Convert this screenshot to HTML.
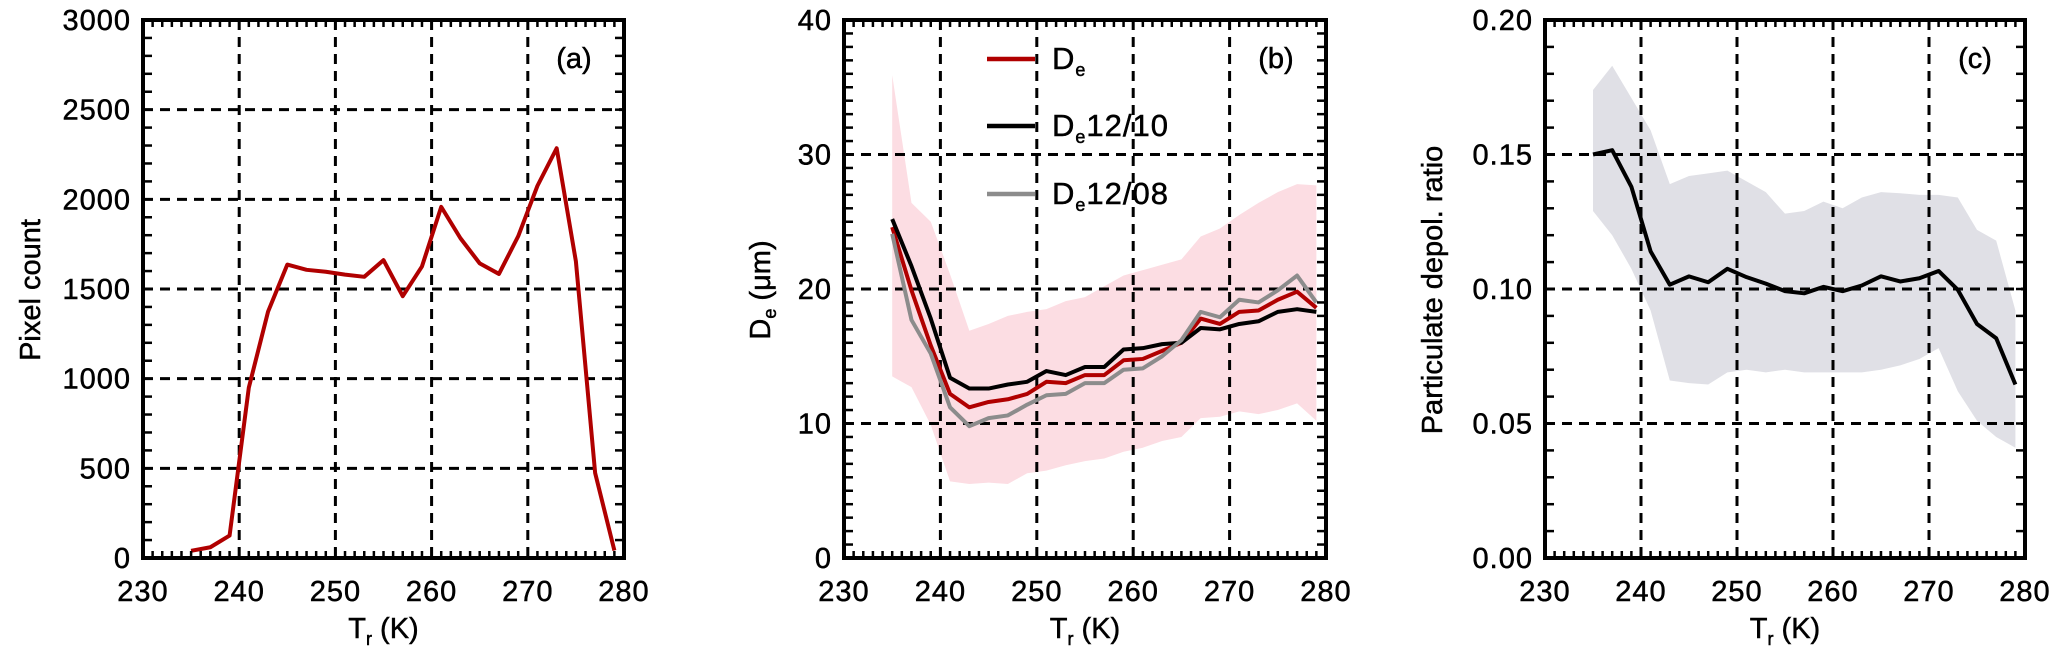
<!DOCTYPE html>
<html><head><meta charset="utf-8"><style>
html,body{margin:0;padding:0;background:#fff;}
svg{display:block;font-family:"Liberation Sans",sans-serif;}
svg text{stroke:#000;stroke-width:0.5px;}
</style></head><body>
<svg id="fig" width="2067" height="660" viewBox="0 0 2067 660"></svg>
<script>
const temps=[235,237,239,241,243,245,247,249,251,253,255,257,259,261,263,265,267,269,271,273,275,277,279];
const pixelCount=[40,60,125,950,1374,1636,1607,1596,1580,1568,1661,1460,1626,1958,1783,1643,1584,1794,2075,2285,1654,474,42];
const deMean=[24.6,19.9,15.8,12.2,11.2,11.6,11.8,12.2,13.1,13.0,13.6,13.6,14.7,14.8,15.4,16.0,17.8,17.4,18.3,18.4,19.2,19.8,18.6];
const de1210=[25.2,21.7,17.8,13.4,12.6,12.6,12.9,13.1,13.9,13.6,14.2,14.2,15.5,15.6,15.9,16.0,17.1,17.0,17.4,17.6,18.3,18.5,18.3];
const de1208=[24.1,17.7,15.2,11.2,9.8,10.4,10.6,11.4,12.1,12.2,13.0,13.0,14.0,14.1,15.0,16.2,18.3,17.9,19.2,19.0,19.9,21.0,19.0];
const deUpper=[35.9,26.4,25.0,21.1,16.9,17.4,18.0,18.3,18.5,19.1,19.4,20.2,21.0,21.4,21.8,22.2,23.9,24.5,25.5,26.4,27.2,27.8,27.7];
const deLower=[13.5,12.7,9.9,5.7,5.5,5.6,5.5,6.3,6.5,6.9,7.2,7.4,7.9,8.2,8.7,9.0,10.4,10.5,10.9,10.7,11.0,11.5,10.2];
const depol=[0.150,0.1516,0.138,0.114,0.1016,0.1047,0.1025,0.1075,0.1044,0.102,0.0992,0.0984,0.1008,0.0992,0.1013,0.1047,0.1028,0.104,0.1067,0.0997,0.087,0.0817,0.0645];
const depolUpper=[0.174,0.183,0.171,0.159,0.139,0.142,0.143,0.144,0.140,0.136,0.128,0.129,0.1325,0.130,0.134,0.136,0.1356,0.135,0.135,0.134,0.122,0.118,0.092];
const depolLower=[0.129,0.12,0.1075,0.092,0.066,0.065,0.0645,0.069,0.07,0.069,0.07,0.069,0.069,0.069,0.069,0.07,0.0716,0.074,0.078,0.062,0.051,0.045,0.041];
const xTicks=[230,240,250,260,270,280];
const yTicksA=[0,500,1000,1500,2000,2500,3000];
const yTicksB=[0,10,20,30,40];
const yTicksC=[0,0.05,0.10,0.15,0.20];
const yLabelsC=["0.00","0.05","0.10","0.15","0.20"];

const NS="http://www.w3.org/2000/svg";
const svg=document.getElementById('fig');
function mk(tag,attrs,parent){const e=document.createElementNS(NS,tag);for(const k in attrs)e.setAttribute(k,attrs[k]);(parent||svg).appendChild(e);return e;}
const TOP=20,BOT=558;

function panel(id,left,right,ymax,yTicks,yLabels,minorY,title,titleX,letter){
  const g=mk('g',{});
  
  
  const sx=v=>left+(v-230)/50*(right-left);
  const sy=v=>BOT-(v/ymax)*(BOT-TOP);
  return {g,sx,sy,left,right,ymax,yTicks,yLabels,minorY,title,titleX,letter,id};
}
function frame(P){
  const {g,sx,sy,left,right}=P;
  const gg=mk('g',{},g);
  
  
  [240,250,260,270].forEach(t=>{mk('line',{x1:sx(t),x2:sx(t),y1:TOP,y2:BOT,stroke:'#000','stroke-width':3,'stroke-dasharray':'10 7'},gg);});
  P.yTicks.slice(1,-1).forEach(t=>{mk('line',{x1:left,x2:right,y1:sy(t),y2:sy(t),stroke:'#000','stroke-width':3,'stroke-dasharray':'10 7'},gg);});
}
function axes(P){
  const {g,sx,sy,left,right}=P;
  const ax=mk('g',{},g);
  
  
  for(let t=230;t<=280;t++){
    const x=sx(t);const L=(t%10===0)?10:7;
    mk('line',{x1:x,x2:x,y1:BOT,y2:BOT-L,stroke:'#000','stroke-width':2.5},ax);
    mk('line',{x1:x,x2:x,y1:TOP,y2:TOP+L,stroke:'#000','stroke-width':2.5},ax);
  }
  const n=Math.round(P.ymax/P.minorY);
  for(let i=0;i<=n;i++){
    const y=sy(i*P.minorY);
    mk('line',{x1:left,x2:left+9,y1:y,y2:y,stroke:'#000','stroke-width':2.5},ax);
    mk('line',{x1:right,x2:right-9,y1:y,y2:y,stroke:'#000','stroke-width':2.5},ax);
  }
  mk('rect',{x:left,y:TOP,width:right-left,height:BOT-TOP,fill:'none',stroke:'#000','stroke-width':4},ax);
  xTicks.forEach(t=>{const e=mk('text',{x:sx(t),y:601,'text-anchor':'middle','font-size':29,'letter-spacing':1},ax);e.textContent=t;
    
    });
  P.yTicks.forEach((t,i)=>{const e=mk('text',{x:left-12,y:sy(t)+10,'text-anchor':'end','font-size':29,'letter-spacing':1},ax);e.textContent=P.yLabels[i];
    
    });
  const xt=mk('text',{x:(left+right)/2,y:638,'text-anchor':'middle','font-size':29},ax);
  xt.innerHTML='T<tspan font-size="18" dy="7">r</tspan><tspan dy="-7"> (K)</tspan>';
  
  
  const yt=mk('text',{x:0,y:0,'text-anchor':'middle','font-size':29,transform:`translate(${P.titleX},290) rotate(-90)`},ax);
  yt.innerHTML=P.title;
  
  
  const lt=mk('text',{x:right-50,y:68,'text-anchor':'middle','font-size':29},ax);
  lt.textContent='('+P.letter+')';
  
  
}
function line(P,vals,color,w,name){
  const pts=temps.map((t,i)=>P.sx(t)+','+P.sy(vals[i])).join(' ');
  const e=mk('polyline',{points:pts,fill:'none',stroke:color,'stroke-width':w,'stroke-linejoin':'round'},P.g);
  
  
}
function band(P,up,lo,color,name){
  const a=temps.map((t,i)=>P.sx(t)+','+P.sy(up[i]));
  const b=temps.map((t,i)=>P.sx(t)+','+P.sy(lo[i])).reverse();
  const e=mk('polygon',{points:a.concat(b).join(' '),fill:color},P.g);
  
  
}

const A=panel('a',143,624,3000,yTicksA,yTicksA.map(String),100,'Pixel count',40,'a');
frame(A);
line(A,pixelCount,'#b00000',4,'pixel-count-line');
axes(A);

const B=panel('b',844,1326,40,yTicksB,yTicksB.map(String),1,'D<tspan font-size="18" dy="6">e</tspan><tspan dy="-6"> (μm)</tspan>',770,'b');
band(B,deUpper,deLower,'#fcdde3','de-spread-band');
frame(B);
line(B,deMean,'#b00000',4,'de-line');
line(B,de1210,'#000',4,'de-12-10-line');
line(B,de1208,'#8c8c8c',4,'de-12-08-line');
axes(B);
const leg=mk('g',{},B.g);


[['#b00000','D<tspan font-size="18" dy="7">e</tspan>',59,'legend-entry-de'],['#000','D<tspan font-size="18" dy="7">e</tspan><tspan dy="-7">12/10</tspan>',126,'legend-entry-de-12-10'],['#8c8c8c','D<tspan font-size="18" dy="7">e</tspan><tspan dy="-7">12/08</tspan>',194,'legend-entry-de-12-08']].forEach(r=>{
  const gi=mk('g',{},leg);
  
  
  mk('line',{x1:987,x2:1035,y1:r[2],y2:r[2],stroke:r[0],'stroke-width':4.5},gi);
  const t=mk('text',{x:1052,y:r[2]+10,'font-size':31,'letter-spacing':1},gi);t.innerHTML=r[1];
});

const C=panel('c',1545,2025,0.20,yTicksC,yLabelsC,0.01,'Particulate depol. ratio',1442,'c');
band(C,depolUpper,depolLower,'#e0e0e6','depol-spread-band');
frame(C);
line(C,depol,'#000',4,'depol-line');
axes(C);
</script>
</body></html>
